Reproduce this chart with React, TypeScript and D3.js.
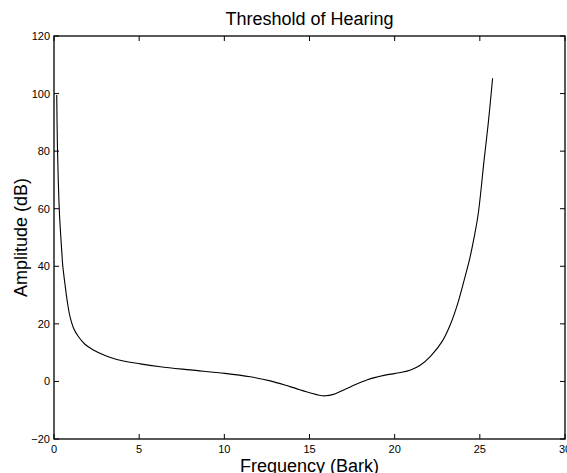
import React from "react";
import * as d3 from "d3";

const barkValues = [0.16, 0.2, 0.25, 0.3, 0.36, 0.45, 0.51, 0.65, 0.8, 0.94, 1.15, 1.43, 1.8, 2.31, 3.0, 3.69, 5.06, 6.24, 8.0, 10.04, 11.53, 12.7, 13.9, 15.06, 15.5, 15.94, 16.4, 16.8, 17.4, 18.4, 19.37, 20.35, 20.94, 21.5, 22.1, 22.8, 23.3, 23.7, 24.08, 24.4, 24.63, 24.9, 25.25, 25.5, 25.75];
const dbValues = [99.5, 82, 70, 61, 54, 45.7, 40.5, 33.5, 27, 22.5, 18.5, 15.6, 13, 10.9, 9, 7.6, 6.1, 5.1, 4.0, 2.8, 1.6, 0.2, -1.9, -4.0, -4.7, -5.0, -4.5, -3.5, -1.9, 0.6, 2.1, 3.1, 4.0, 5.6, 8.7, 14.0, 20.2, 27, 35.2, 42.5, 49, 58, 76.9, 90, 105.3];
const xTicks = [0, 5, 10, 15, 20, 25, 30];
const yTicks = [-20, 0, 20, 40, 60, 80, 100, 120];

const title = "Threshold of Hearing";
const xLabel = "Frequency (Bark)";
const yLabel = "Amplitude (dB)";

const W = 567, H = 473;
const L = 54, R = 565, T = 36, B = 439;
const font = "'Liberation Sans', Arial, Helvetica, sans-serif";

export default function App() {
  const x = d3.scaleLinear().domain([0, 30]).range([L, R]);
  const y = d3.scaleLinear().domain([-20, 120]).range([B, T]);
  const data = barkValues.map((b, i) => [b, dbValues[i]] as [number, number]);
  const line = d3.line<[number, number]>().x(d => x(d[0])).y(d => y(d[1])).curve(d3.curveCatmullRom.alpha(0.5));
  const tl = 5;
  const fmt = (v: number) => (v < 0 ? "\u2212" + Math.abs(v) : String(v));
  return (
    <svg width={W} height={H} style={{ position: "absolute", left: 0, top: 0, background: "#fff" }} fontFamily={font}>
      <rect x={0} y={0} width={W} height={H} fill="#fff" />
      <path d={line(data) || ""} fill="none" stroke="#000" strokeWidth={1.1} />
      {xTicks.map(t => (
        <g key={"x" + t}>
          <line x1={x(t)} x2={x(t)} y1={B} y2={B - tl} stroke="#000" strokeWidth={1} />
          <line x1={x(t)} x2={x(t)} y1={T} y2={T + tl} stroke="#000" strokeWidth={1} />
          <text x={x(t)} y={453} fontSize={11} textAnchor="middle" fill="#000">{fmt(t)}</text>
        </g>
      ))}
      {yTicks.map(t => (
        <g key={"y" + t}>
          <line x1={L} x2={L + tl} y1={y(t)} y2={y(t)} stroke="#000" strokeWidth={1} />
          <line x1={R} x2={R - tl} y1={y(t)} y2={y(t)} stroke="#000" strokeWidth={1} />
          <text x={L - 4} y={y(t) + 4} fontSize={11} textAnchor="end" fill="#000">{fmt(t)}</text>
        </g>
      ))}
      <rect x={L} y={T} width={R - L} height={B - T} fill="none" stroke="#000" strokeWidth={1.3} />
      <text x={(L + R) / 2} y={25} fontSize={18} textAnchor="middle" fill="#000">{title}</text>
      <text x={(L + R) / 2} y={472} fontSize={18} textAnchor="middle" fill="#000">{xLabel}</text>
      <text transform={`translate(26.5,${(T + B) / 2}) rotate(-90)`} fontSize={18} textAnchor="middle" fill="#000">{yLabel}</text>
    </svg>
  );
}
